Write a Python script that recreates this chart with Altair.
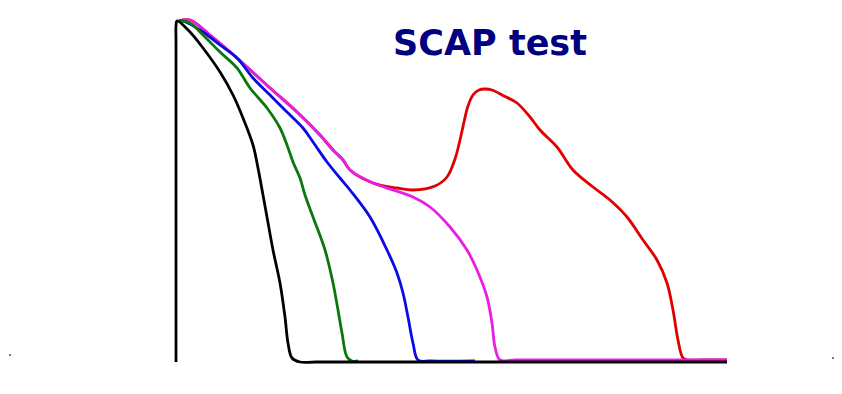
import altair as alt
import pandas as pd

# Curves (x in ms-like units from the start, y = amplitude)
black_x = [0, 0, 0, 1, 14, 27, 44, 57, 67, 77, 82, 87, 91, 97, 104, 109, 112, 116, 124, 140, 551]
black_y = [0, 320, 336, 341, 330, 314, 290, 267, 244, 217, 194, 167, 145, 112, 79, 45, 19, 4, 0, 0, 0]

green_x = [3, 14, 27, 44, 61, 74, 91, 104, 111, 117, 124, 129, 137, 149, 157, 162, 166, 171, 176, 182]
green_y = [341, 339, 327, 310, 294, 274, 254, 234, 217, 200, 184, 167, 145, 112, 79, 52, 29, 5, 1, 1]

blue_x = [3, 7, 27, 44, 61, 77, 94, 111, 127, 137, 151, 164, 174, 194, 211, 221, 227, 232, 237, 242, 255, 299]
blue_y = [341, 341, 330, 317, 304, 284, 267, 250, 234, 220, 200, 184, 172, 145, 112, 89, 69, 45, 19, 2, 1, 1]

magenta_x = [3, 14, 34, 61, 94, 121, 144, 157, 167, 174, 197, 237, 254, 274, 291, 301, 311, 316, 319, 324, 340, 551]
magenta_y = [341, 342, 327, 304, 274, 250, 227, 212, 202, 192, 179, 165, 155, 135, 112, 92, 65, 39, 15, 2, 2, 2]

red_x = [3, 14, 34, 61, 94, 121, 144, 157, 167, 174, 197, 221, 237, 259, 271, 279, 284, 288, 292, 297, 303,
         309, 316, 328, 341, 354, 364, 381, 397, 417, 434, 451, 467, 481, 491, 497, 502, 507, 512, 525, 551]
red_y = [341, 342, 327, 304, 274, 250, 227, 212, 202, 192, 179, 174, 172, 176, 185, 203, 222, 240, 256, 267, 272,
         273, 272, 266, 259, 245, 232, 215, 192, 175, 162, 145, 122, 102, 79, 52, 22, 4, 2, 2, 2]

dots_x = [-166, 657]
dots_y = [7, 4]

title_text = ["SCAP test"]

series = [
    ("red", red_x, red_y, "#e00000"),
    ("magenta", magenta_x, magenta_y, "#e61ee6"),
    ("blue", blue_x, blue_y, "#0a0ae6"),
    ("green", green_x, green_y, "#0a780a"),
    ("black", black_x, black_y, "#000000"),
]

xs = alt.Scale(domain=[-168, 658], nice=False, zero=False)
ys = alt.Scale(domain=[-16, 354], nice=False, zero=False)

layers = []
for name, xv, yv, col in series:
    df = pd.DataFrame({"x": xv, "y": yv, "o": list(range(len(xv)))})
    layers.append(
        alt.Chart(df)
        .mark_line(color=col, strokeWidth=2.8, clip=False, interpolate="catmull-rom")
        .encode(
            x=alt.X("x:Q", scale=xs, axis=None),
            y=alt.Y("y:Q", scale=ys, axis=None),
            order="o:Q",
        )
    )

dots = alt.Chart(pd.DataFrame({"x": dots_x, "y": dots_y})).mark_square(
    color="#333333", size=3, opacity=1
).encode(x=alt.X("x:Q", scale=xs, axis=None), y=alt.Y("y:Q", scale=ys, axis=None))

title = alt.Chart(pd.DataFrame({"t": title_text, "x": [314], "y": [318]})).mark_text(
    font="DejaVu Sans", fontWeight="bold", fontSize=35, color="#000080",
    align="center", baseline="middle"
).encode(x=alt.X("x:Q", scale=xs, axis=None), y=alt.Y("y:Q", scale=ys, axis=None), text="t:N")

chart = alt.layer(*layers, dots, title).properties(
    width=826, height=370, padding=0, background="white",
    autosize=alt.AutoSizeParams(type="none")
).configure_view(strokeWidth=0, stroke=None)

chart.save("out.html", embed_options={"renderer": "svg", "actions": False})
